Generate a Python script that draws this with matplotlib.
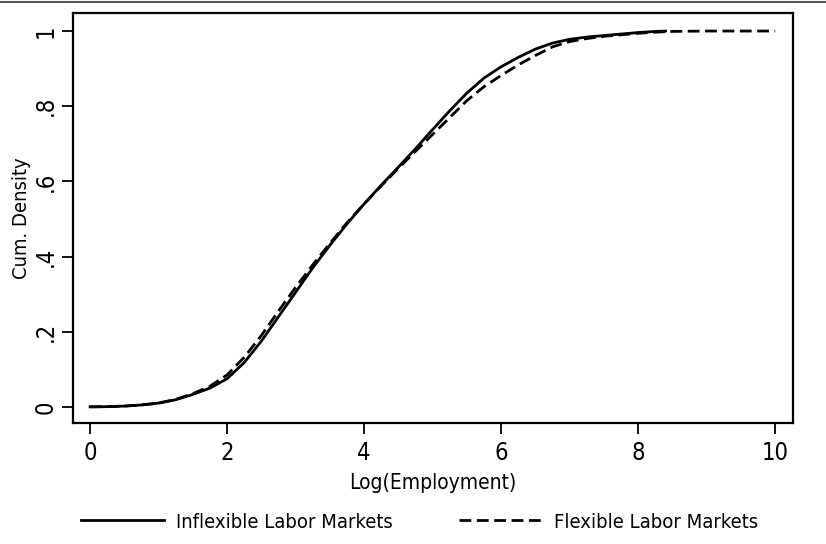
import numpy as np
import matplotlib
matplotlib.use('Agg')
import matplotlib.pyplot as plt
from matplotlib.lines import Line2D

plt.rcParams['font.family'] = ['DejaVu Sans']
plt.rcParams['font.stretch'] = 'condensed'
plt.rcParams['lines.scale_dashes'] = False

inflex_x = [0, 0.25, 0.5, 0.75, 1.0, 1.25, 1.5, 1.75, 2.0, 2.25, 2.5, 2.75,
            3.0, 3.25, 3.5, 3.75, 4.0, 4.25, 4.5, 4.75, 5.0, 5.25, 5.5, 5.75,
            6.0, 6.25, 6.5, 6.75, 7.0, 7.25, 7.5, 7.75, 8.0, 8.25, 8.4]
inflex_y = [0, 0.0005, 0.002, 0.005, 0.01, 0.019, 0.033, 0.05, 0.075, 0.118,
            0.175, 0.24, 0.305, 0.37, 0.43, 0.487, 0.54, 0.59, 0.638, 0.687,
            0.738, 0.788, 0.835, 0.875, 0.905, 0.93, 0.952, 0.968, 0.978,
            0.984, 0.988, 0.992, 0.996, 0.999, 1.0]

flex_x = [0, 0.25, 0.5, 0.75, 1.0, 1.25, 1.5, 1.75, 2.0, 2.25, 2.5, 2.75,
          3.0, 3.25, 3.5, 3.75, 4.0, 4.25, 4.5, 4.75, 5.0, 5.25, 5.5, 5.75,
          6.0, 6.25, 6.5, 6.75, 7.0, 7.25, 7.5, 7.75, 8.0, 8.25, 8.5, 9.0,
          10.0]
flex_y = [0, 0.0005, 0.002, 0.005, 0.01, 0.02, 0.035, 0.055, 0.085, 0.132,
          0.19, 0.255, 0.318, 0.378, 0.435, 0.49, 0.54, 0.588, 0.635, 0.68,
          0.725, 0.77, 0.815, 0.852, 0.882, 0.91, 0.935, 0.958, 0.972, 0.98,
          0.986, 0.99, 0.994, 0.997, 0.999, 1.0, 1.0]

xticks = [0, 2, 4, 6, 8, 10]
yticks = [0, 0.2, 0.4, 0.6, 0.8, 1.0]
ytick_labels = ['0', '.2', '.4', '.6', '.8', '1']

fig = plt.figure(figsize=(8.26, 5.44), dpi=100)
ax = fig.add_axes([73 / 826, 1 - 423 / 544, 720 / 826, 410 / 544])

ax.plot(inflex_x, inflex_y, color='black', lw=2.0,
        label='Inflexible Labor Markets')
ax.plot(flex_x, flex_y, color='black', lw=2.0, dashes=(8.5, 4.0),
        label='Flexible Labor Markets')

ax.set_xlim(-0.25, 10.26)
ax.set_ylim(-0.043, 1.048)
ax.set_xticks(xticks)
ax.set_yticks(yticks)
ax.set_yticklabels(ytick_labels, rotation=90, va='center')
ax.tick_params(axis='both', length=8, width=1.3, labelsize=17)
ax.tick_params(axis='x', pad=5)
ax.tick_params(axis='y', pad=3)
for sp in ax.spines.values():
    sp.set_linewidth(1.6)

ax.set_xlabel('Log(Employment)', fontsize=15, labelpad=6)
ax.set_ylabel('Cum. Density', fontsize=14.5)
ax.yaxis.set_label_coords(-0.059, 0.5)

leg = fig.legend(loc='center', bbox_to_anchor=(0.508, 1 - 522 / 544), ncol=2,
                 frameon=False, fontsize=14.5, handlelength=4.1,
                 handletextpad=0.6, columnspacing=3.3)

# thin rule across the top edge
fig.add_artist(Line2D([0, 1], [1 - 2 / 544, 1 - 2 / 544], color='#555555',
                      lw=1.5, transform=fig.transFigure))

fig.savefig('out.png', dpi=100)
